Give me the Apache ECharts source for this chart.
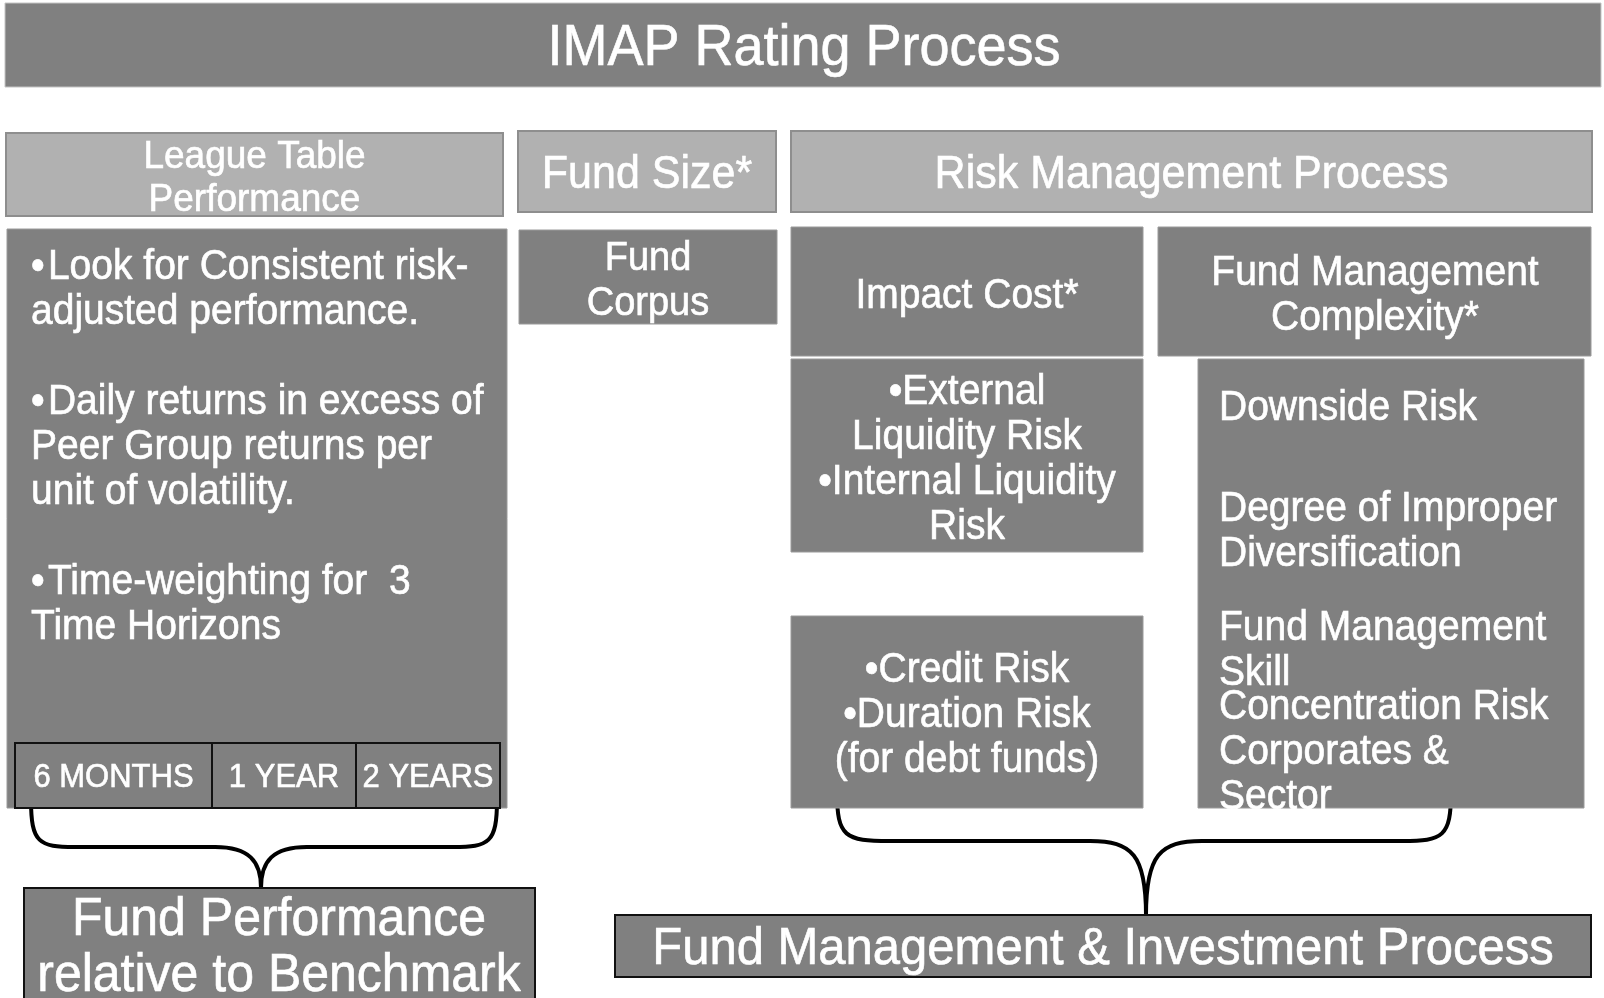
<!DOCTYPE html>
<html>
<head>
<meta charset="utf-8">
<title>IMAP Rating Process</title>
<script src="https://cdn.jsdelivr.net/npm/echarts@6/dist/echarts.min.js"></script>
<style>
  html, body { margin: 0; padding: 0; background: #fff; }
  #main { width: 1604px; height: 998px; }
</style>
</head>
<body>
<div id="main"></div>
<script>
// texts of the diagram
var titleText = 'IMAP Rating Process';
var headerLabels = ['League Table\nPerformance', 'Fund Size*', 'Risk Management Process'];
var performanceLines = [
    '\u2022\u200ALook for Consistent risk-', 'adjusted performance.', '',
    '\u2022\u200ADaily returns in excess of', 'Peer Group returns per', 'unit of volatility.', '',
    '\u2022\u200ATime-weighting for  3', 'Time Horizons'
];
var timeHorizons = ['6 MONTHS', '1 YEAR', '2 YEARS'];
var fundSizeItems = ['Fund\nCorpus'];
var riskHeads = ['Impact Cost*', 'Fund Management\nComplexity*'];
var impactItems = [
    '\u2022External\nLiquidity Risk\n\u2022Internal Liquidity\nRisk',
    '\u2022Credit Risk\n\u2022Duration Risk\n(for debt funds)'
];
var complexityItems = [
    'Downside Risk',
    'Degree of Improper\nDiversification',
    'Fund Management\nSkill',
    'Concentration Risk\nCorporates &\nSector'
];
var outcomes = ['Fund Performance\nrelative to Benchmark', 'Fund Management & Investment Process'];

var FONT = '"Liberation Sans", Arial, Helvetica, sans-serif';
var DARK = '#808080';
var LIGHT = '#b1b1b1';
var STRETCH = 1.07;   // the source font is a little narrower / taller than Arial

function box(x, y, w, h, fill, stroke, lw) {
    return {
        type: 'rect',
        shape: { x: x, y: y, width: w, height: h },
        style: { fill: fill, stroke: stroke, lineWidth: lw }
    };
}

// text block centred vertically on y
function label(x, y, text, size, align, lh) {
    return {
        type: 'text',
        x: x,
        y: y,
        scaleY: STRETCH,
        z: 10,
        style: {
            text: text,
            fill: '#ffffff',
            stroke: '#ffffff',
            lineWidth: 0.6,
            fontSize: size,
            fontFamily: FONT,
            align: align,
            textAlign: align,
            verticalAlign: 'middle',
            textVerticalAlign: 'middle',
            lineHeight: lh / STRETCH
        }
    };
}

var lineStyle = { fill: null, stroke: '#000', lineWidth: 4, lineCap: 'round' };

// one half of a curly brace: stem curve, straight run, curve into the tip
function halfBrace(sx, sy, hx1, hx2, hy, tx, ty, bend) {
    var dir = hx1 < hx2 ? 1 : -1;
    return [
        {
            type: 'bezierCurve',
            shape: { x1: sx, y1: sy, cpx1: sx, cpy1: hy - 4, cpx2: sx + dir * 8, cpy2: hy, x2: hx1, y2: hy },
            style: lineStyle
        },
        {
            type: 'line',
            shape: { x1: hx1, y1: hy, x2: hx2, y2: hy },
            style: lineStyle
        },
        {
            type: 'bezierCurve',
            shape: { x1: hx2, y1: hy, cpx1: hx2 + dir * bend, cpy1: hy, cpx2: tx, cpy2: hy + 14, x2: tx, y2: ty },
            style: lineStyle
        }
    ];
}

var els = [];

// braces first so the boxes cover their ends
els = els.concat(halfBrace(31, 800, 75, 215, 847, 261, 888, 34));
els = els.concat(halfBrace(497, 800, 453, 307, 847, 261, 888, 34));
els = els.concat(halfBrace(837, 792, 890, 1090, 841, 1146, 915, 42));
els = els.concat(halfBrace(1451, 792, 1402, 1202, 841, 1146, 915, 42));

// title bar
els.push(box(5, 3, 1596, 84, DARK, '#c4c4c4', 1));
els.push(label(804, 49, titleText, 54, 'center', 60));

// header row
var headerBoxes = [[6, 133, 497, 83], [518, 131, 258, 81], [791, 131, 801, 81]];
var headerSizes = [37, 43, 43];
headerBoxes.forEach(function (b, i) {
    els.push(box(b[0], b[1], b[2], b[3], LIGHT, '#8e8e8e', 2));
    els.push(label(b[0] + b[2] / 2, b[1] + b[3] / 2 + 4, headerLabels[i], headerSizes[i], 'center', 43));
});

// league table body
els.push(box(7, 229, 500, 579, DARK, '#9a9a9a', 1));
els.push(label(31, 447, performanceLines.join('\n'), 39, 'left', 45));

// time horizons row
var cells = [[15, 197], [212, 144], [356, 144]];
cells.forEach(function (c, i) {
    els.push(box(c[0], 743, c[1], 65, DARK, '#111', 2));
    els.push(label(c[0] + c[1] / 2, 778, timeHorizons[i], 31, 'center', 36));
});

// fund size body
els.push(box(519, 230, 258, 94, DARK, '#9a9a9a', 1));
els.push(label(648, 281, fundSizeItems[0], 38, 'center', 45));

// risk management heads
els.push(box(791, 227, 352, 129, DARK, '#9a9a9a', 1));
els.push(label(967, 296, riskHeads[0], 39, 'center', 45));
els.push(box(1158, 227, 433, 129, DARK, '#9a9a9a', 1));
els.push(label(1375, 296, riskHeads[1], 39, 'center', 45));

// impact cost items
els.push(box(791, 359, 352, 193, DARK, '#9a9a9a', 1));
els.push(label(967, 460, impactItems[0], 39, 'center', 45));
els.push(box(791, 616, 352, 192, DARK, '#9a9a9a', 1));
els.push(label(967, 715, impactItems[1], 39, 'center', 45));

// fund management complexity items
els.push(box(1198, 359, 386, 449, DARK, '#9a9a9a', 1));
var complexityMid = [408, 532, 651, 752];
complexityItems.forEach(function (t, i) {
    els.push(label(1219, complexityMid[i], t, 39, 'left', 45));
});

// outcomes
els.push(box(24, 888, 511, 120, DARK, '#111', 2));
els.push(label(279, 948, outcomes[0], 50, 'center', 56));
els.push(box(615, 915, 976, 62, DARK, '#111', 2));
els.push(label(1103, 950, outcomes[1], 49, 'center', 56));

var myChart = echarts.init(document.getElementById('main'), null, { renderer: 'canvas' });
myChart.setOption({
    backgroundColor: '#ffffff',
    animation: false,
    graphic: { elements: els }
});
</script>
</body>
</html>
